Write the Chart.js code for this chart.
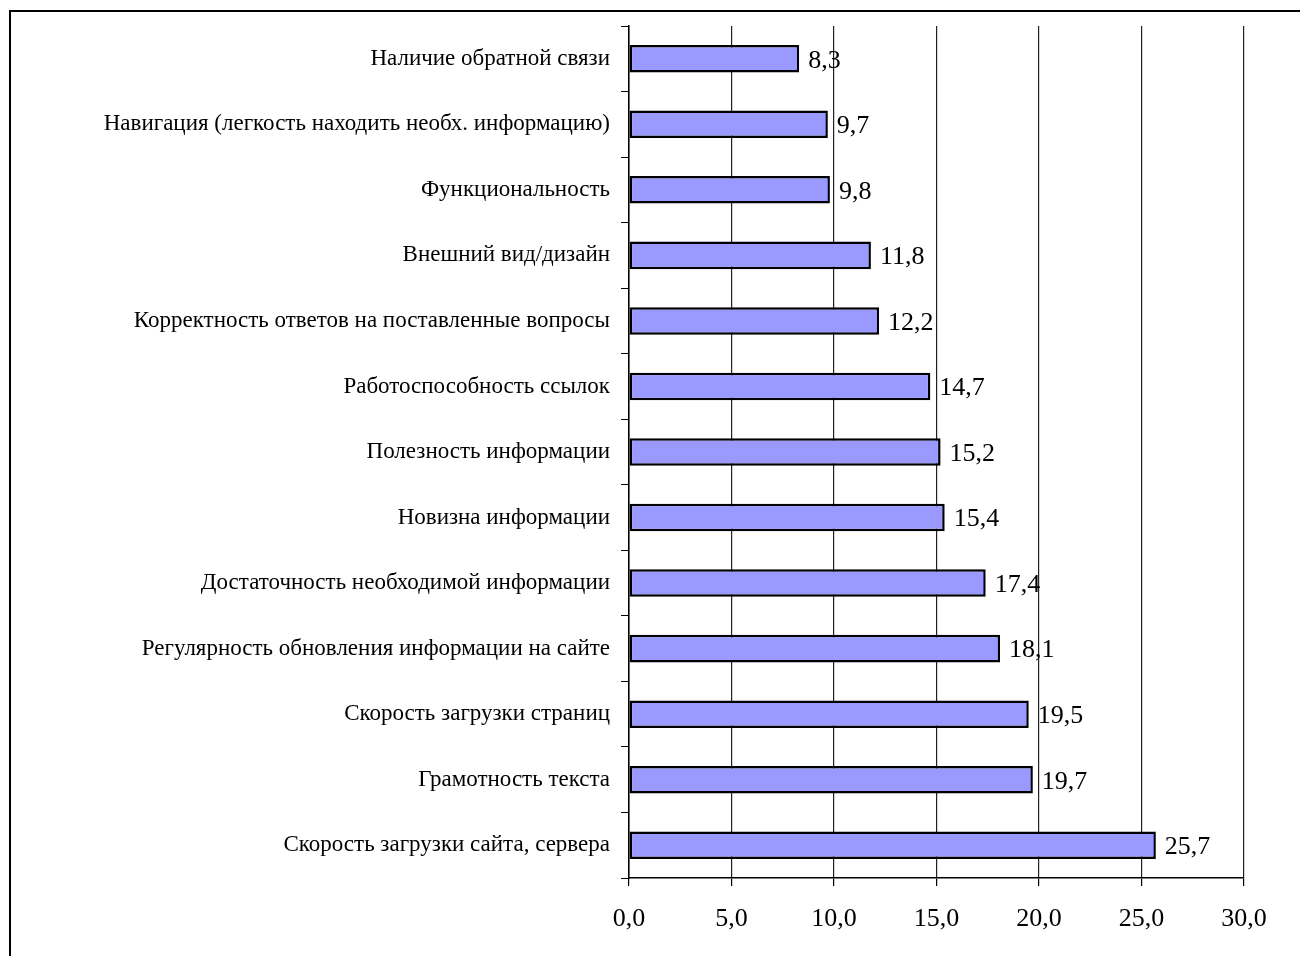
<!DOCTYPE html>
<html>
<head>
<meta charset="utf-8">
<script src="https://cdn.jsdelivr.net/npm/chart.js@4/dist/chart.umd.min.js"></script>
<style>
  body { margin: 0; background: #fff; }
  #wrap { position: relative; width: 1300px; height: 956px; overflow: hidden; }
  #frame {
    position: absolute; left: 9px; top: 10px; width: 1310px; height: 1000px;
    border: 2px solid #000; pointer-events: none;
  }
  canvas { position: absolute; left: 0; top: 0; }
</style>
</head>
<body>
<div id="wrap">
  <canvas id="chart" width="1300" height="956"></canvas>
  <div id="frame"></div>
</div>
<script>
// src/survey.js

const categories = [
  "Наличие обратной связи",
  "Навигация (легкость находить необх. информацию)",
  "Функциональность",
  "Внешний вид/дизайн",
  "Корректность ответов на поставленные вопросы",
  "Работоспособность ссылок",
  "Полезность информации",
  "Новизна информации",
  "Достаточность необходимой информации",
  "Регулярность обновления информации на сайте",
  "Скорость загрузки страниц",
  "Грамотность текста",
  "Скорость загрузки сайта, сервера",
];
const values = [8.3, 9.7, 9.8, 11.8, 12.2, 14.7, 15.2, 15.4, 17.4, 18.1, 19.5, 19.7, 25.7];
const xMin = 0;
const xMax = 30;
const xStep = 5;

const serif = "'Liberation Serif', 'Times New Roman', serif";

function fmt(v) {
  return v.toFixed(1).replace(".", ",");
}

// value text right of each bar end
const barLabels = {
  id: "barLabels",
  afterDatasetsDraw(chart) {
    const ctx = chart.ctx;
    const meta = chart.getDatasetMeta(0);
    ctx.save();
    ctx.font = "26px " + serif;
    ctx.fillStyle = "#000";
    ctx.textAlign = "left";
    ctx.textBaseline = "middle";
    meta.data.forEach((bar, i) => {
      ctx.fillText(fmt(values[i]), bar.x + 9, bar.y + 2);
    });
    ctx.restore();
  },
};

const chart = new Chart("chart", {
  type: "bar",
  data: {
    labels: categories,
    datasets: [
      {
        data: values,
        backgroundColor: "#9999ff",
        borderColor: "#000",
        borderWidth: 2.5,
        borderSkipped: false,
        categoryPercentage: 1,
        barPercentage: 0.42,
      },
    ],
  },
  plugins: [barLabels],
  options: {
    indexAxis: "y",
    responsive: false,
    animation: false,
    devicePixelRatio: 1,
    layout: { padding: { top: 26, right: 56, bottom: 0, left: 0 } },
    plugins: {
      legend: { display: false },
      tooltip: { enabled: false },
    },
    scales: {
      x: {
        min: xMin,
        max: xMax,
        afterFit(scale) { scale.height = 78; },
        border: { color: "#000", width: 1.5 },
        grid: {
          color: "#222",
          lineWidth: 1.2,
          tickColor: "#000",
          tickLength: 8,
        },
        ticks: {
          stepSize: xStep,
          color: "#000",
          padding: 18,
          font: { family: serif, size: 26 },
          callback: (v) => fmt(v),
        },
      },
      y: {
        afterFit(scale) { scale.width = 629; },
        border: { color: "#000", width: 1.5 },
        grid: {
          drawOnChartArea: false,
          tickColor: "#000",
          tickLength: 8,
        },
        ticks: {
          color: "#000",
          padding: 11,
          autoSkip: false,
          font: { family: serif, size: 23 },
        },
      },
    },
  },
});
</script>
</body>
</html>
